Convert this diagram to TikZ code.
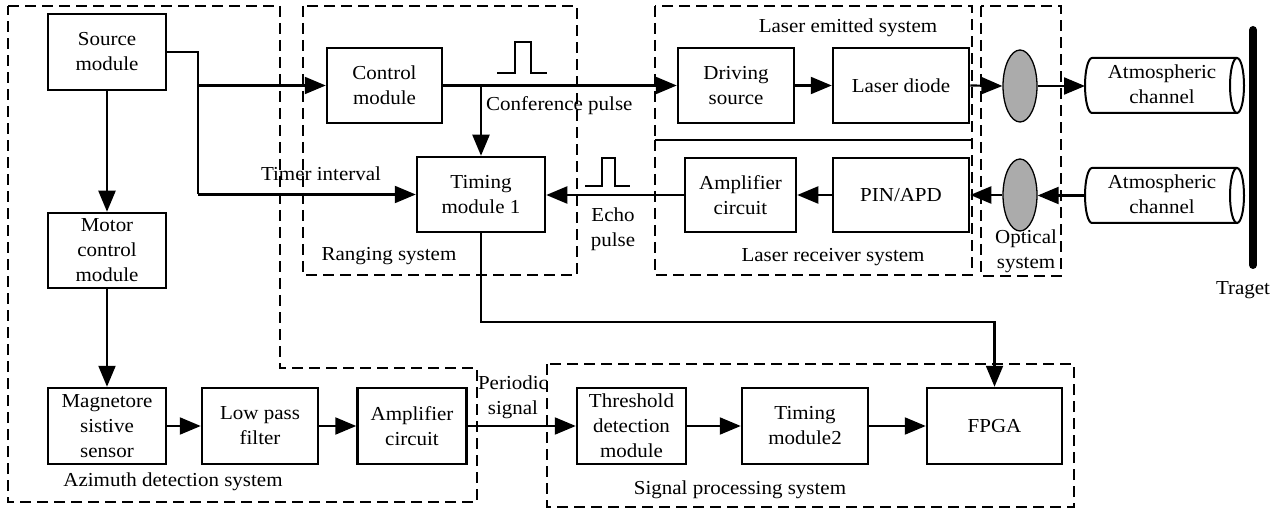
\documentclass[tikz,border=0pt]{standalone}
\usepackage{fontspec}
\setmainfont{Liberation Serif}[FakeStretch=1.06]
\usetikzlibrary{arrows.meta,shapes.geometric}
\begin{document}
\begin{tikzpicture}[x=1pt,y=-1pt,
  every node/.style={font=\fontsize{19.8pt}{25pt}\selectfont, inner sep=0pt},
  blk/.style={draw, line width=2.5pt, align=center, minimum height=75pt},
  lens/.style={draw, ellipse, line width=1.3pt, fill=black!33, minimum width=34pt, minimum height=72pt},
  conn/.style={line width=2.2pt},
  arr/.style={conn, -{Triangle[length=21pt,width=17pt]}},
  grp/.style={line width=2.3pt, dash pattern=on 11pt off 6pt},
  lbl/.style={align=center}
]
\useasboundingbox (0,0) rectangle (1281,510);

% group frames
\draw[grp] (8,6) -- (280,6) -- (280,368) -- (477,368) -- (477,502) -- (8,502) -- cycle;
\draw[grp] (303,6) rectangle (577,275);
\draw[grp] (655,6) rectangle (972,140);
\draw[grp] (655,140) rectangle (972,275);
\draw[grp] (981,6) rectangle (1061,276);
\draw[grp] (547,364) rectangle (1074,507);

% blocks
\node[blk, minimum width=118pt, minimum height=76pt] (src) at (107,52) {Source\\module};
\node[blk, minimum width=115pt] (ctrl) at (384.5,85.5) {Control\\module};
\node[blk, minimum width=128pt] (tim1) at (481,194.5) {Timing\\module 1};
\node[blk, minimum width=118pt] (motor) at (107,250.5) {Motor\\control\\module};
\node[blk, minimum width=118pt, minimum height=76pt] (mag) at (107,426) {Magnetore\\sistive\\sensor};
\node[blk, minimum width=116pt, minimum height=76pt] (lpf) at (260,426) {Low pass\\filter};
\node[blk, minimum width=109pt, minimum height=76pt] (amp2) at (412,426) {Amplifier\\circuit};
\node[blk, minimum width=109pt, minimum height=76pt] (thr) at (631.5,426) {Threshold\\detection\\module};
\node[blk, minimum width=126pt, minimum height=76pt] (tim2) at (805,426) {Timing\\module2};
\node[blk, minimum width=135pt, minimum height=76pt] (fpga) at (994.5,426) {FPGA};
\node[blk, minimum width=116pt] (drv) at (736,85.5) {Driving\\source};
\node[blk, minimum width=136pt] (ld) at (901,85.5) {Laser diode};
\node[blk, minimum width=111pt, minimum height=74pt] (amp1) at (740.5,195) {Amplifier\\circuit};
\node[blk, minimum width=136pt, minimum height=74pt] (pin) at (901,195) {PIN/APD};
\node[lens] (e1) at (1020,86) {};
\node[lens] (e2) at (1020,195) {};

% atmospheric channels (cylinders)
\node[minimum width=159pt, minimum height=55pt, lbl] (ch1) at (1162,84) {Atmospheric\\channel};
\node[minimum width=159pt, minimum height=55pt, lbl] (ch2) at (1162,194) {Atmospheric\\channel};
\foreach \yc in {85.5,195.5}{
  \draw[line width=2pt] (1237,\yc-27.5) -- (1092,\yc-27.5)
     arc[start angle=90,end angle=270,x radius=7pt,y radius=27.5pt] -- (1237,\yc+27.5);
  \draw[line width=2pt] (1237,\yc) ellipse[x radius=7pt,y radius=27.5pt];
}

% target
\draw[line width=8pt, line cap=round] (1253,30) -- (1253,265);
\node (tgt) at (1243,290) {Traget};

% connectors
\coordinate (sj) at (198,52);
\draw[conn] (src.east) -- (sj) -- (sj |- tim1.west);
\draw[arr] (sj |- ctrl.west) -- (ctrl.west);
\draw[arr] (sj |- tim1.west) -- (tim1.west);
\draw[arr] (ctrl.east) -- (drv.west);
\coordinate (cj) at (tim1.north |- ctrl.east);
\draw[arr] (cj) -- (tim1.north);
\draw[arr] (drv.east) -- (ld.west);
\draw[arr] (ld.east) -- (e1.west);
\draw[arr] (e1.east) -- (1085,86);
\draw[arr] (1085,195.5) -- (1085,195.5 -| e2.east);
\draw[arr] (e2.west) -- (e2.west -| pin.east);
\draw[arr] (pin.west) -- (amp1.east);
\draw[arr] (amp1.west) -- (amp1.west -| tim1.east);
\coordinate (tj) at (481,322);
\draw[arr] (tim1.south) -- (tj) -| (fpga.north);
\draw[arr] (src.south) -- (motor.north);
\draw[arr] (motor.south) -- (mag.north);
\draw[arr] (mag.east) -- (lpf.west);
\draw[arr] (lpf.east) -- (amp2.west);
\draw[arr] (amp2.east) -- (thr.west);
\draw[arr] (thr.east) -- (tim2.west);
\draw[arr] (tim2.east) -- (fpga.west);

% pulses
\draw[line width=2pt] (497,73) -- (515,73) -- (515,42) -- (531,42) -- (531,73) -- (547,73);
\draw[line width=2pt] (585,186) -- (602,186) -- (602,158) -- (615,158) -- (615,186) -- (630,186);

% labels
\node[anchor=west] (lcp) at (486,106) {Conference pulse};
\node (lti) at (321,174) {Timer interval};
\node[lbl] (lep) at (613,229) {Echo\\pulse};
\node (lrs) at (389,256) {Ranging system};
\node (lles) at (848,28) {Laser emitted system};
\node (llrs) at (833,257) {Laser receiver system};
\node[lbl] (los) at (1026,251) {Optical\\system};
\node[lbl] (lps) at (513,397) {Periodic\\signal};
\node (lads) at (173,482) {Azimuth detection system};
\node (lsps) at (740,490) {Signal processing system};
\end{tikzpicture}
\end{document}
